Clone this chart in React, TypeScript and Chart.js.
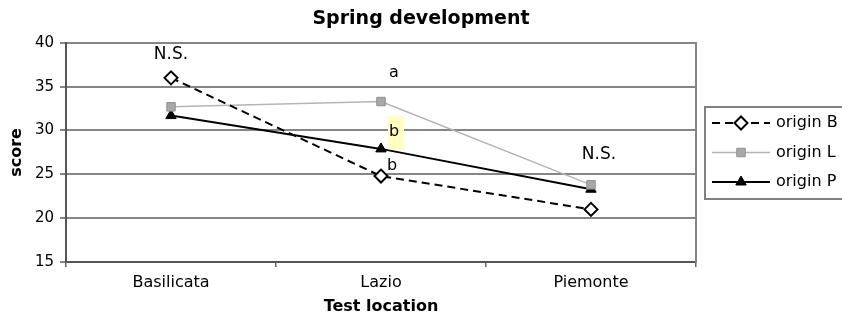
import React, { useEffect, useRef } from 'react';
import { Chart, registerables } from 'chart.js';
import { drawPoint } from 'chart.js/helpers';

Chart.register(...registerables);

const categories = ['Basilicata', 'Lazio', 'Piemonte'];
const seriesLabels = ['origin B', 'origin L', 'origin P'];
const originB = [36.0, 24.8, 21.0];
const originL = [32.7, 33.3, 23.8];
const originP = [31.7, 27.9, 23.3];
const yTicks = [15, 20, 25, 30, 35, 40];
const noteTexts = ['N.S.', 'a', 'b', 'b', 'N.S.'];
const noteCategories = ['Basilicata', 'Lazio', 'Lazio', 'Lazio', 'Piemonte'];
const noteValues = [38.7, 36.6, 29.8, 26.0, 27.2];
const noteHighlighted = [false, false, true, false, false];

const FONT = "'DejaVu Sans', sans-serif";

const notesLegendPlugin = {
  id: 'notesLegend',
  afterDatasetsDraw(chart: any) {
    const ctx = chart.ctx;
    const xs = chart.scales.x;
    const ys = chart.scales.y;
    const dxs = [0, 13, 13, 11, 8];
    const sizes = [17, 16, 16, 16, 17];
    ctx.save();
    ctx.textAlign = 'center';
    ctx.textBaseline = 'middle';
    noteTexts.forEach((t, i) => {
      const x = xs.getPixelForValue(categories.indexOf(noteCategories[i])) + dxs[i];
      const y = ys.getPixelForValue(noteValues[i]);
      if (noteHighlighted[i]) {
        ctx.fillStyle = '#ffffbe';
        ctx.fillRect(x - 6, y - 16, 16, 33);
      }
      ctx.fillStyle = '#000';
      ctx.font = `${sizes[i]}px ${FONT}`;
      ctx.fillText(t, x, y);
    });
    ctx.restore();

    // legend
    const area = chart.chartArea;
    const bx = area.right + 9;
    const by = 107;
    ctx.save();
    ctx.strokeStyle = '#808080';
    ctx.lineWidth = 2;
    ctx.strokeRect(bx, by, 150, 92);
    chart.data.datasets.forEach((ds: any, i: number) => {
      const y = 123 + i * 29.5;
      ctx.save();
      ctx.strokeStyle = ds.borderColor;
      ctx.lineWidth = ds.borderWidth;
      ctx.setLineDash(ds.borderDash || []);
      ctx.beginPath();
      ctx.moveTo(bx + 7, y);
      ctx.lineTo(bx + 65, y);
      ctx.stroke();
      ctx.restore();
      ctx.save();
      ctx.fillStyle = ds.pointBackgroundColor;
      ctx.strokeStyle = ds.pointBorderColor;
      ctx.lineWidth = ds.pointBorderWidth;
      drawPoint(ctx, { pointStyle: ds.pointStyle, radius: ds.pointRadius, rotation: 0, borderWidth: ds.pointBorderWidth }, bx + 36, y);
      ctx.restore();
      ctx.fillStyle = '#000';
      ctx.font = `16px ${FONT}`;
      ctx.textAlign = 'left';
      ctx.textBaseline = 'middle';
      ctx.fillText(ds.label, bx + 71, y);
    });
    ctx.restore();
  },
};

export default function App() {
  const ref = useRef<HTMLCanvasElement>(null);
  useEffect(() => {
    if (!ref.current) return;
    const chart = new Chart(ref.current, {
      type: 'line',
      data: {
        labels: categories,
        datasets: [
          {
            label: seriesLabels[0],
            data: originB,
            borderColor: '#000000',
            borderWidth: 2,
            borderDash: [8, 5],
            pointStyle: 'rectRot',
            pointRadius: 6.5,
            pointBackgroundColor: '#ffffff',
            pointBorderColor: '#000000',
            pointBorderWidth: 2,
            tension: 0,
          },
          {
            label: seriesLabels[1],
            data: originL,
            borderColor: '#b4b4b4',
            borderWidth: 1.5,
            pointStyle: 'rect',
            pointRadius: 6,
            pointBackgroundColor: '#a8a8a8',
            pointBorderColor: '#909090',
            pointBorderWidth: 1,
            tension: 0,
          },
          {
            label: seriesLabels[2],
            data: originP,
            borderColor: '#000000',
            borderWidth: 2,
            pointStyle: 'triangle',
            pointRadius: 6,
            pointBackgroundColor: '#000000',
            pointBorderColor: '#000000',
            pointBorderWidth: 1,
            tension: 0,
          },
        ],
      },
      options: {
        animation: false,
        responsive: false,
        devicePixelRatio: 1,
        layout: { padding: 0 },
        plugins: {
          legend: { display: false },
          tooltip: { enabled: false },
          title: {
            display: true,
            text: 'Spring development',
            color: '#000',
            font: { family: FONT, size: 19, weight: 'bold' },
            padding: { top: 8, bottom: 12 },
          },
        },
        scales: {
          x: {
            type: 'category',
            offset: true,
            grid: {
              offset: true,
              drawOnChartArea: false,
              drawTicks: true,
              tickLength: 5,
              color: '#666',
              lineWidth: 1.5,
            },
            border: { color: '#555', width: 2 },
            ticks: { color: '#000', padding: 6, font: { family: FONT, size: 16 } },
            title: {
              display: true,
              text: 'Test location',
              color: '#000',
              font: { family: FONT, size: 16, weight: 'bold' },
              padding: { top: 0, bottom: 0 },
            },
            afterFit: (s: any) => {
              s.height = 54;
            },
          },
          y: {
            type: 'linear',
            min: 15,
            max: 40,
            afterBuildTicks: (s: any) => {
              s.ticks = yTicks.map((v) => ({ value: v }));
            },
            grid: { color: '#858585', lineWidth: 2, tickLength: 6 },
            border: { color: '#555', width: 2 },
            ticks: { color: '#000', padding: 6, font: { family: FONT, size: 15 } },
            title: {
              display: true,
              text: 'score',
              color: '#000',
              font: { family: FONT, size: 16, weight: 'bold' },
              padding: { top: 7, bottom: 0 },
            },
            afterFit: (s: any) => {
              s.width = 66;
            },
          },
          yR: {
            type: 'linear',
            position: 'right',
            display: true,
            grid: { display: false, drawTicks: false },
            border: { display: true, color: '#858585', width: 2 },
            ticks: { display: false },
            afterFit: (s: any) => {
              s.width = 146;
            },
          },
        },
      },
      plugins: [notesLegendPlugin],
    } as any);
    return () => chart.destroy();
  }, []);
  return (
    <div style={{ position: 'absolute', left: 0, top: 0, width: 842, height: 316, background: '#fff' }}>
      <canvas ref={ref} width={842} height={316} />
    </div>
  );
}
